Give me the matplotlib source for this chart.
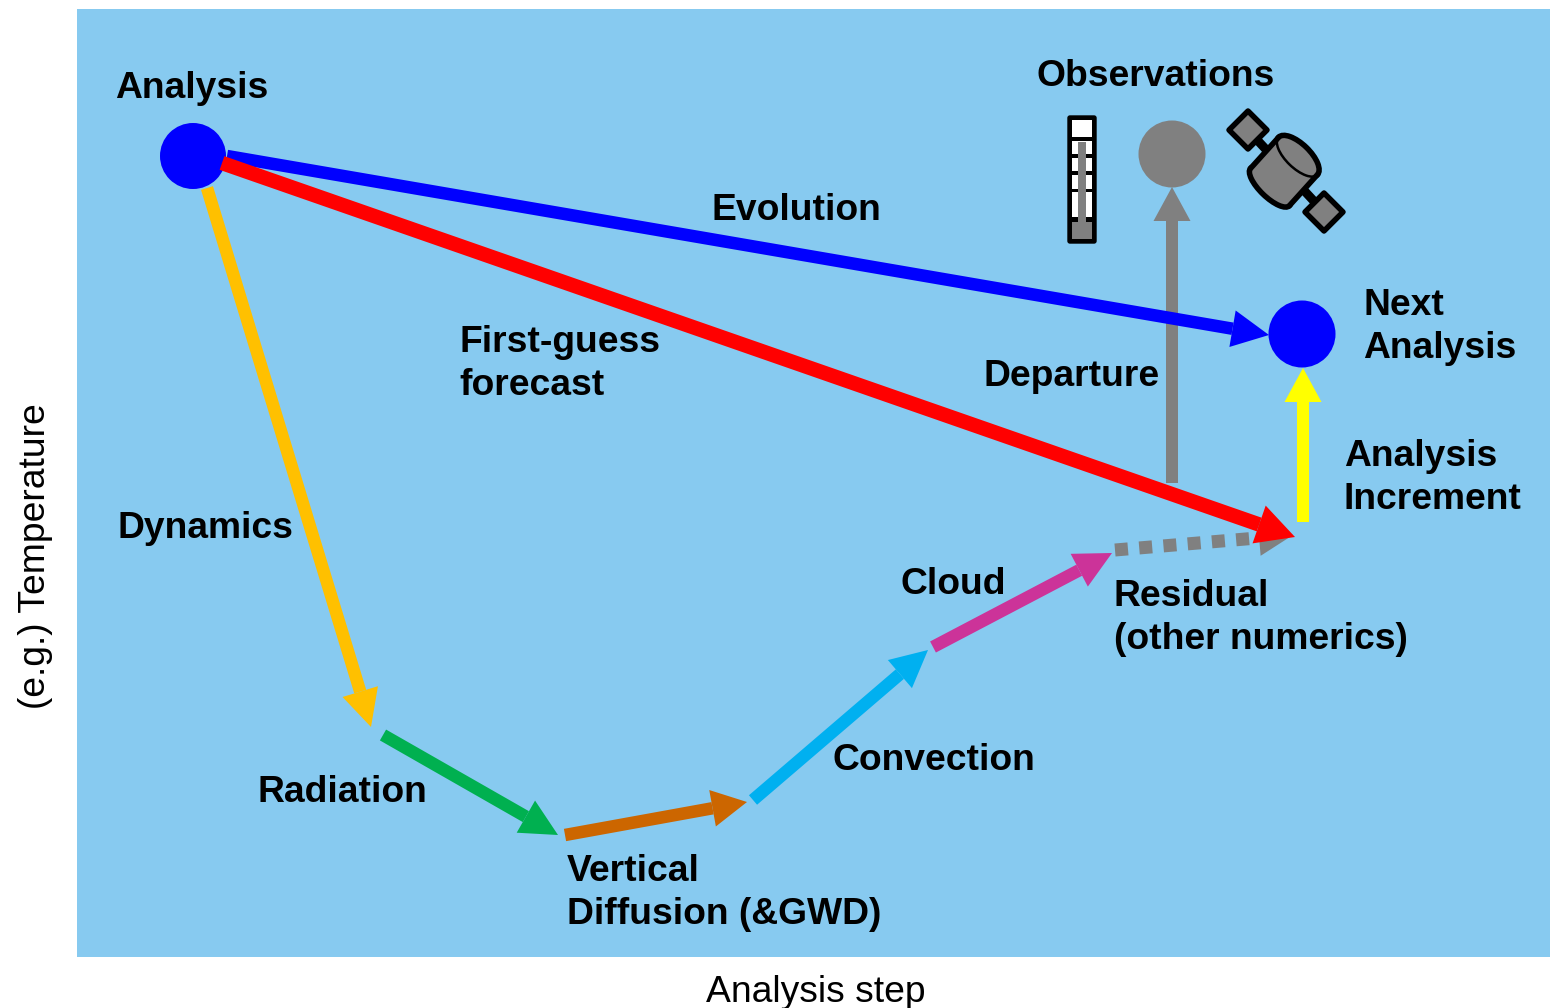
import numpy as np
import matplotlib
matplotlib.use('Agg')
import matplotlib.pyplot as plt
from matplotlib.patches import Circle, Ellipse, Polygon, FancyBboxPatch, Rectangle

W, H = 1550, 1008
PX = 0.72  # one pixel in points at dpi 100

plt.rcParams['font.family'] = ['Liberation Sans', 'DejaVu Sans']

BG = '#87CAF0'
GREY = '#808080'

# start x, start y, end x, end y, colour, shaft width, head length, head width
arrows = [
    (207, 188, 371, 727, '#FFC000', 12.5, 37, 37),
    (383, 735, 558, 835, '#00B050', 12.5, 37, 37),
    (565, 835, 747, 802, '#CC6600', 12.5, 35, 37),
    (753, 800, 928, 650, '#00B0F0', 12.5, 37, 37),
    (933, 647, 1112, 553, '#CC3399', 12.5, 37, 37),
    (1172, 483, 1172, 187, GREY, 12.5, 34, 37),
    (1303, 522, 1303, 368, '#FFFF00', 12.5, 34, 37),
    (227, 156, 1269, 335, '#0000FF', 12.5, 37, 37),
]
dotted = (1115, 550, 1293, 535, GREY, 13, 34, 36)
red = (222, 163, 1295, 537, '#FF0000', 14.5, 38, 40)

# x, y, radius, colour
circles = [
    (193, 156, 33, '#0000FF'),
    (1302, 334, 33.5, '#0000FF'),
    (1172, 154, 33.5, GREY),
]

# text, x, y (left, vertical centre of the block)
labels = [
    ('Analysis', 115, 88),
    ('Observations', 1036, 77),
    ('Evolution', 711, 210),
    ('Next\nAnalysis', 1363, 327),
    ('First-guess\nforecast', 459, 364),
    ('Departure', 983, 377),
    ('Analysis\nIncrement', 1344, 478),
    ('Dynamics', 118, 528),
    ('Cloud', 900, 584),
    ('Residual\n(other numerics)', 1114, 618),
    ('Convection', 832, 761),
    ('Radiation', 257, 793),
    ('Vertical\nDiffusion (&GWD)', 567, 893),
]
xlabel = 'Analysis step'
ylabel = '(e.g.) Temperature'


def draw_arrow(ax, x0, y0, x1, y1, color, width, head_len, head_w, ls='-', z=3):
    d = np.array([x1 - x0, y1 - y0], dtype=float)
    d /= np.hypot(*d)
    n = np.array([-d[1], d[0]])
    tip = np.array([x1, y1], dtype=float)
    base = tip - d * head_len
    if ls == '-':
        ax.add_patch(Polygon([np.array([x0, y0]) + n * width / 2, base + n * width / 2,
                              base - n * width / 2, np.array([x0, y0]) - n * width / 2],
                             fc=color, ec='none', zorder=z))
    else:
        ax.plot([x0, base[0]], [y0, base[1]], color=color, lw=width * PX,
                ls=ls, dash_capstyle='butt', zorder=z)
    ax.add_patch(Polygon([tip, base + n * head_w / 2, base - n * head_w / 2],
                         fc=color, ec='none', zorder=z))


def draw_thermometer(ax):
    ax.add_patch(FancyBboxPatch((1068, 116), 28, 127, boxstyle='round,pad=0,rounding_size=2',
                                fc='black', ec='black', lw=1, zorder=3))
    # white panes between the black ticks
    for top, bottom in [(120, 137), (141, 154), (158, 171), (175, 189), (192, 217)]:
        ax.add_patch(Rectangle((1072, top), 20, bottom - top, fc='white', ec='none', zorder=4))
    ax.add_patch(Rectangle((1072, 222), 20, 17, fc=GREY, ec='none', zorder=5))
    ax.add_patch(Rectangle((1078, 142), 8, 82, fc=GREY, ec='none', zorder=5))


def draw_satellite(ax):
    lw = 5.5 * PX
    ax.plot([1247, 1324], [129, 212], color='black', lw=9 * PX, zorder=3)
    for cx, cy in [(1248, 130), (1324, 212)]:
        ax.add_patch(Polygon([(cx, cy - 19), (cx + 19, cy), (cx, cy + 19), (cx - 19, cy)],
                             fc=GREY, ec='black', lw=lw, joinstyle='round', zorder=4))
    v = np.array([0.72, 0.69])
    c1 = np.array([1298.0, 156.0])
    c2 = np.array([1270.0, 187.0])
    r = 27
    ax.add_patch(Ellipse(c2, 2 * r, 20, angle=44, fc=GREY, ec='black', lw=lw, zorder=5))
    ax.add_patch(Ellipse(c1, 2 * r, 24, angle=44, fc=GREY, ec='black', lw=lw, zorder=5))
    ax.add_patch(Polygon([c1 - r * v, c1 + r * v, c2 + r * v, c2 - r * v],
                         fc=GREY, ec='none', zorder=6))
    for s in (-1, 1):
        ax.plot([c1[0] + s * r * v[0], c2[0] + s * r * v[0]],
                [c1[1] + s * r * v[1], c2[1] + s * r * v[1]],
                color='black', lw=lw, solid_capstyle='round', zorder=7)
    # thin rim on the near side of the top face
    ax.add_patch(Ellipse(c1, 2 * r, 24, angle=44, fc='none', ec='black', lw=2.5 * PX, zorder=8))


fig = plt.figure(figsize=(W / 100, H / 100), dpi=100, facecolor='white')
ax = fig.add_axes([0, 0, 1, 1])
ax.set_xlim(0, W)
ax.set_ylim(H, 0)
ax.axis('off')

ax.add_patch(Rectangle((77, 9), 1473, 948, fc=BG, ec='none', zorder=0))

for a in arrows:
    draw_arrow(ax, *a)
x0, y0, x1, y1, c, w, hl, hw = dotted
draw_arrow(ax, x0, y0, x1, y1, c, w, hl, hw, ls=(0, (1.0, 0.87)))
draw_arrow(ax, *red, z=6)

for x, y, r, c in circles:
    ax.add_patch(Circle((x, y), r, fc=c, ec='none', zorder=5))

draw_thermometer(ax)
draw_satellite(ax)

for txt, x, y in labels:
    ax.text(x, y, txt, fontsize=26.8, fontweight='bold', ha='left', va='center',
            linespacing=1.28, color='black', zorder=10)

ax.text(816, 992, xlabel, fontsize=26.8, ha='center', va='center')
ax.text(36, 556, ylabel, fontsize=26.8, rotation=90, ha='center', va='center')

fig.savefig('out.png', dpi=100)
